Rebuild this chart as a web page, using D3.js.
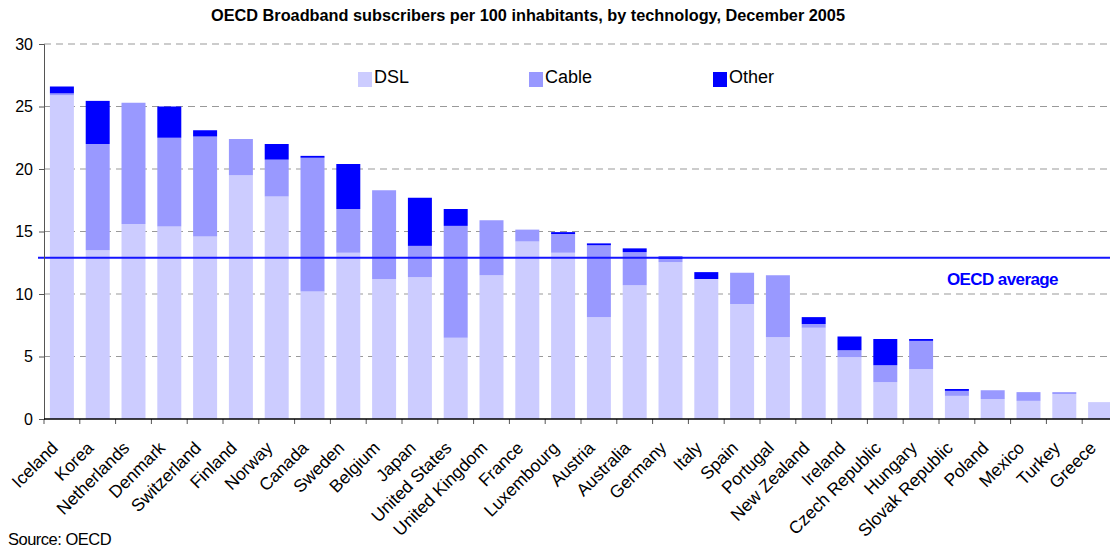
<!DOCTYPE html>
<html>
<head>
<meta charset="utf-8">
<script src="https://cdn.jsdelivr.net/npm/d3@7"></script>
<style>
  body { margin: 0; background: #fff; }
  svg { display: block; font-family: Arial, "Liberation Sans", sans-serif; }
  .axis text { font-size: 16px; fill: #000; }
  .xlabels text { font-size: 17.5px; fill: #000; }
  .grid line { stroke: #999; stroke-dasharray: 7,5; }
</style>
</head>
<body>
<div id="chart"></div>
<script>
// Data (subscribers per 100 inhabitants)
const countries = ["Iceland", "Korea", "Netherlands", "Denmark", "Switzerland",
  "Finland", "Norway", "Canada", "Sweden", "Belgium", "Japan", "United States",
  "United Kingdom", "France", "Luxembourg", "Austria", "Australia", "Germany",
  "Italy", "Spain", "Portugal", "New Zealand", "Ireland", "Czech Republic",
  "Hungary", "Slovak Republic", "Poland", "Mexico", "Turkey", "Greece"];
const dsl = [25.9, 13.5, 15.6, 15.4, 14.6, 19.5, 17.8, 10.2, 13.3, 11.2, 11.35,
  6.5, 11.5, 14.2, 13.3, 8.15, 10.7, 12.55, 11.2, 9.2, 6.55, 7.3, 4.95, 2.95,
  4.0, 1.85, 1.6, 1.45, 2.0, 1.35];
const cable = [0.15, 8.5, 9.7, 7.1, 8.0, 2.9, 2.95, 10.7, 3.5, 7.1, 2.5, 8.95,
  4.4, 0.95, 1.5, 5.75, 2.65, 0.25, 0, 2.5, 4.95, 0.3, 0.55, 1.35, 2.25, 0.4,
  0.7, 0.7, 0.15, 0];
const other = [0.55, 3.45, 0, 2.5, 0.5, 0, 1.25, 0.15, 3.6, 0, 3.85, 1.35, 0,
  0, 0.15, 0.15, 0.3, 0.2, 0.55, 0, 0, 0.55, 1.1, 2.1, 0.15, 0.15, 0, 0, 0, 0];
const oecdAverage = 12.9;
const yTicks = [0, 5, 10, 15, 20, 25, 30];
const seriesKeys = ["DSL", "Cable", "Other"];
const seriesColors = ["#ccccff", "#9999ff", "#0000ff"];

const width = 1110;
const height = 548;
const margin = {top: 44, left: 44, bottom: 129};
const plotRight = 1118;
const plotBottom = height - margin.bottom;

const svg = d3.select("#chart")
  .append("svg")
  .attr("width", width)
  .attr("height", height);

// Build table for the stack layout
const table = countries.map(function(c, i) {
  return {country: c, DSL: dsl[i], Cable: cable[i], Other: other[i]};
});
const stacked = d3.stack().keys(seriesKeys)(table);

const x = d3.scaleBand()
  .domain(countries)
  .range([margin.left, plotRight])
  .paddingInner(0.33)
  .paddingOuter(0.165);

const y = d3.scaleLinear()
  .domain([0, 30])
  .range([plotBottom, margin.top]);

const color = d3.scaleOrdinal().domain(seriesKeys).range(seriesColors);

// Gridlines
svg.append("g")
  .attr("class", "grid")
  .selectAll("line")
  .data(yTicks.filter(function(d) { return d > 0; }))
  .enter()
  .append("line")
  .attr("x1", margin.left)
  .attr("x2", width)
  .attr("y1", function(d) { return y(d); })
  .attr("y2", function(d) { return y(d); });

// Bars
svg.append("g")
  .selectAll("g")
  .data(stacked)
  .enter()
  .append("g")
  .attr("fill", function(d) { return color(d.key); })
  .selectAll("rect")
  .data(function(d) { return d; })
  .enter()
  .append("rect")
  .attr("x", function(d) { return x(d.data.country); })
  .attr("width", x.bandwidth())
  .attr("y", function(d) { return y(d[1]); })
  .attr("height", function(d) { return y(d[0]) - y(d[1]); });

// OECD average line
svg.append("line")
  .attr("x1", margin.left - 6)
  .attr("x2", width)
  .attr("y1", y(oecdAverage))
  .attr("y2", y(oecdAverage))
  .attr("stroke", "#1515ff")
  .attr("stroke-width", 2);

svg.append("text")
  .attr("x", 947)
  .attr("y", y(oecdAverage) + 27)
  .attr("fill", "#0000ff")
  .attr("font-size", 17)
  .attr("font-weight", "bold")
  .attr("letter-spacing", -0.6)
  .text("OECD average");

// Y axis
const yAxis = svg.append("g")
  .attr("class", "axis")
  .attr("transform", "translate(" + margin.left + ",0)")
  .call(d3.axisLeft(y).tickValues(yTicks).tickSize(5).tickPadding(6));
yAxis.select(".domain").attr("stroke", "#555");
yAxis.selectAll(".tick line").attr("stroke", "#555");

// X axis: ticks at band boundaries
const step = x.step();
const boundaries = d3.range(countries.length + 1).map(function(i) {
  return margin.left + i * step;
});
svg.append("g")
  .selectAll("line")
  .data(boundaries)
  .enter()
  .append("line")
  .attr("x1", function(d) { return d; })
  .attr("x2", function(d) { return d; })
  .attr("y1", plotBottom)
  .attr("y2", plotBottom + 5)
  .attr("stroke", "#555");
svg.append("line")
  .attr("x1", margin.left)
  .attr("x2", width)
  .attr("y1", plotBottom)
  .attr("y2", plotBottom)
  .attr("stroke", "#000")
  .attr("stroke-width", 1.5);

// Rotated country labels
svg.append("g")
  .attr("class", "xlabels")
  .selectAll("text")
  .data(countries)
  .enter()
  .append("text")
  .attr("text-anchor", "end")
  .attr("transform", function(d) {
    return "translate(" + (x(d) + x.bandwidth() / 2 - 3) + "," + (plotBottom + 30) + ") rotate(-45)";
  })
  .text(function(d) { return d; });

// Legend
const legendX = [358, 529, 713];
const legend = svg.append("g")
  .selectAll("g")
  .data(seriesKeys)
  .enter()
  .append("g")
  .attr("transform", function(d, i) { return "translate(" + legendX[i] + ",72)"; });
legend.append("rect")
  .attr("width", 14)
  .attr("height", 15)
  .attr("fill", function(d) { return color(d); });
legend.append("text")
  .attr("x", 16)
  .attr("y", 11)
  .attr("font-size", 18)
  .text(function(d) { return d; });

// Title
svg.append("text")
  .attr("x", 528)
  .attr("y", 21)
  .attr("text-anchor", "middle")
  .attr("font-size", 16.3)
  .attr("font-weight", "bold")
  .text("OECD Broadband subscribers per 100 inhabitants, by technology, December 2005");

// Source
svg.append("text")
  .attr("x", 8)
  .attr("y", 545)
  .attr("font-size", 16.5)
  .attr("letter-spacing", -0.5)
  .text("Source: OECD");
</script>
</body>
</html>
